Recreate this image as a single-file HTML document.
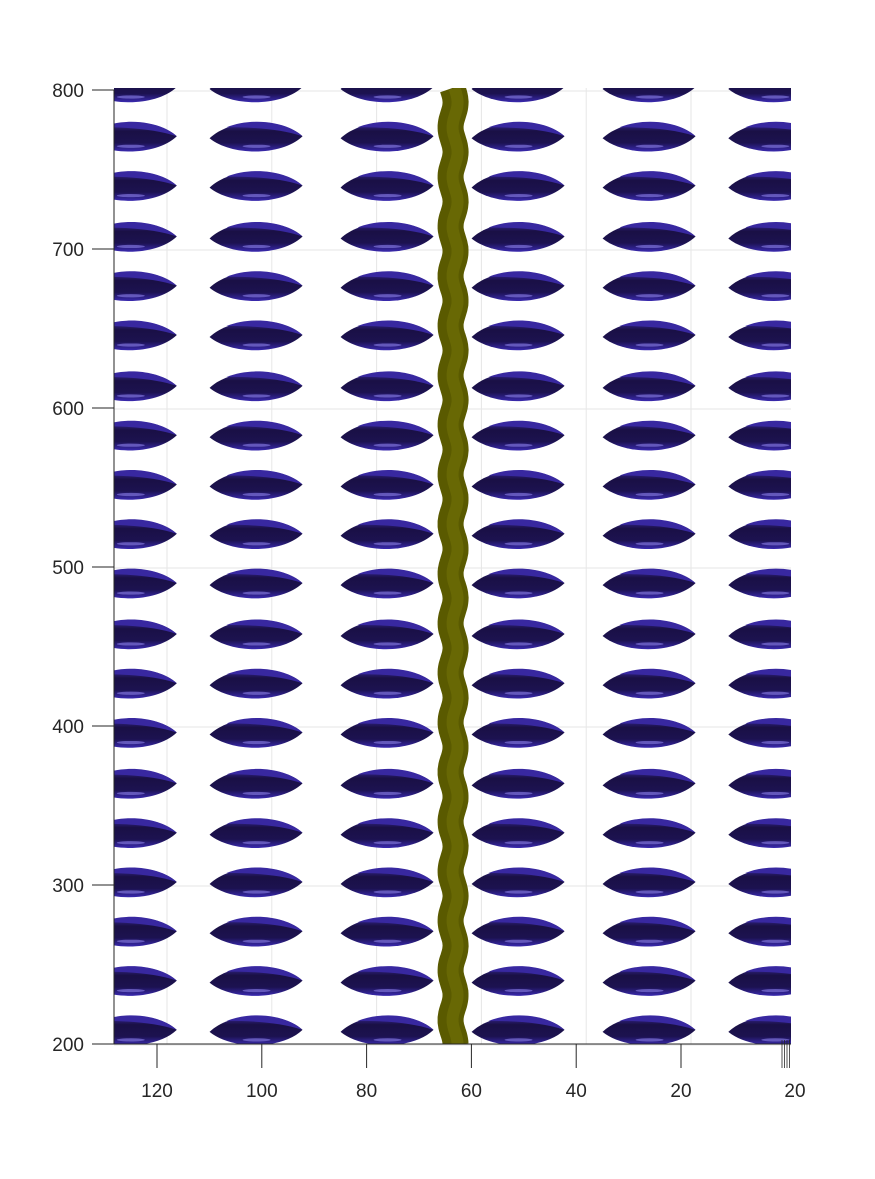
<!DOCTYPE html>
<html><head><meta charset="utf-8">
<style>
html,body{margin:0;padding:0;background:#fff;}
svg text{font-family:"Liberation Sans",sans-serif;font-size:19px;fill:#262626;}
</style></head>
<body>
<svg id="chart" width="875" height="1174" viewBox="0 0 875 1174" xmlns="http://www.w3.org/2000/svg">
<defs>
<linearGradient id="body" x1="0" x2="0" y1="0" y2="1">
<stop offset="0" stop-color="#3a2aa0"/>
<stop offset="0.3" stop-color="#1a1045"/>
<stop offset="0.7" stop-color="#1c1250"/>
<stop offset="1" stop-color="#3a2ab0"/>
</linearGradient>
<linearGradient id="tube" x1="0" x2="1" y1="0" y2="0">
<stop offset="0" stop-color="#4a4a00"/>
<stop offset="0.55" stop-color="#747408"/>
<stop offset="1" stop-color="#4c4c00"/>
</linearGradient>
<clipPath id="plot"><rect x="114" y="88" width="677" height="956"/></clipPath>
</defs>
<g id="grid"></g>
<g id="marks" clip-path="url(#plot)"></g>
<g id="axes"></g>
</svg>
<script>
const yTicks=[200,300,400,500,600,700,800];
const xTicks=[120,100,80,60,40,20];
const colCenters=[125,101,76,51,26,2];
const rowCenters=[800,769,738,706,675,644,612,581,550,519,488,456,425,394,362,331,300,269,238,207];
const tubeX=63.5;
const NS="http://www.w3.org/2000/svg";
const sy=v=>1044-(v-200)*1.59;
const sx=v=>681+(20-v)*5.24;
function mk(t,a,p){const e=document.createElementNS(NS,t);for(const k in a)e.setAttribute(k,a[k]);p.appendChild(e);return e;}
const grid=document.getElementById('grid'),marks=document.getElementById('marks'),axes=document.getElementById('axes');
yTicks.forEach(v=>{const l=mk('line',{x1:114,x2:791,y1:sy(v)+1,y2:sy(v)+1,stroke:'#e6e6e6','stroke-width':1},grid);

});
xTicks.forEach(v=>{const l=mk('line',{x1:sx(v)+10,x2:sx(v)+10,y1:88,y2:1044,stroke:'#e6e6e6','stroke-width':1},grid);

});
rowCenters.forEach(r=>{colCenters.forEach(c=>{
const g=mk('g',{},marks);


const cx=sx(c),cy=sy(r)-2;
mk('path',{d:`M${cx-47},${cy+1} C${cx-25},${cy-20} ${cx+25},${cy-20} ${cx+46},${cy-1} C${cx+25},${cy+19} ${cx-25},${cy+19} ${cx-47},${cy+1}Z`,fill:'url(#body)'},g);
mk('path',{d:`M${cx-30},${cy-10} C${cx-5},${cy-20} ${cx+30},${cy-16} ${cx+46},${cy-1} C${cx+25},${cy-8} ${cx},${cy-10} ${cx-30},${cy-10}Z`,fill:'#3828a0'},g);
mk('ellipse',{cx:cx,cy:cy+9,rx:14,ry:1.6,fill:'#7d72d8',opacity:0.7},g);
});});
let d='';for(let y=88;y<=1044;y+=2){const x=sx(tubeX)+2.5*Math.sin((y-90)/49.6*2*Math.PI);d+=(d?'L':'M')+x.toFixed(1)+','+y;}
const tb=mk('path',{d:d,fill:'none',stroke:'#5a5a00','stroke-width':26},marks);


mk('path',{d:d,fill:'none',stroke:'#6e6e06','stroke-width':12,transform:'translate(2,0)',opacity:0.7},marks);
mk('line',{x1:114,x2:114,y1:90,y2:1044,stroke:'#262626','stroke-width':1},axes);
mk('line',{x1:114,x2:791,y1:1044,y2:1044,stroke:'#262626','stroke-width':1},axes);
yTicks.forEach(v=>{mk('line',{x1:92,x2:114,y1:sy(v),y2:sy(v),stroke:'#262626'},axes);
const t=mk('text',{x:84,y:sy(v)+7,'text-anchor':'end'},axes);t.textContent=v;

});
xTicks.forEach(v=>{mk('line',{x1:sx(v),x2:sx(v),y1:1044,y2:1068,stroke:'#262626'},axes);
const t=mk('text',{x:sx(v),y:1097,'text-anchor':'middle'},axes);t.textContent=v;

});
[782,784.5,787,789.5].forEach(x=>mk('line',{x1:x,x2:x,y1:1040,y2:1068,stroke:'#262626','stroke-width':0.8},axes));
const t2=mk('text',{x:795,y:1097,'text-anchor':'middle'},axes);t2.textContent='20';


</script>
</body></html>
